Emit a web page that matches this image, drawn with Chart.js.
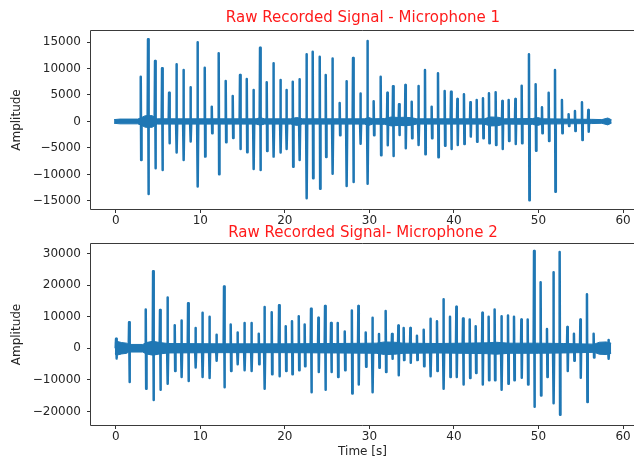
<!DOCTYPE html>
<html>
<head>
<meta charset="utf-8">
<script src="https://cdn.jsdelivr.net/npm/chart.js@4.4.1/dist/chart.umd.min.js"></script>
<style>
  html, body { margin: 0; padding: 0; background: #fff; overflow: hidden; }
  .box { position: absolute; left: 0; }
  #b1 { top: 0; }
  #b2 { top: 218px; }
</style>
</head>
<body>
<div class="box" id="b1"><canvas id="mic1" width="634" height="240"></canvas></div>
<div class="box" id="b2"><canvas id="mic2" width="634" height="242"></canvas></div>
<script>
// axis ticks
const xTicks = [0, 10, 20, 30, 40, 50, 60];
const yTicks1 = [-15000, -10000, -5000, 0, 5000, 10000, 15000];
const yTicks2 = [-20000, -10000, 0, 10000, 20000, 30000];

// microphone 1 - impact bursts: time [s], positive peak, negative peak
const spikeT1 = [2.98, 3.84, 4.67, 5.50, 6.33, 7.20, 8.03, 8.86, 9.69, 10.55, 11.38, 12.20, 13.03, 13.86, 14.72, 15.52, 16.31, 17.09, 17.88, 18.67,
  19.50, 20.21, 20.96, 21.75, 22.58, 23.32, 24.15, 24.86, 25.65, 26.51, 27.31, 28.09, 28.96, 29.79, 30.53, 31.36, 32.15, 32.82, 33.53, 34.28,
  35.03, 35.82, 36.60, 37.39, 38.14, 38.93, 39.68, 40.43, 41.21, 41.97, 42.72, 43.46, 44.17, 44.96, 45.75, 46.50, 47.29, 48.04, 48.90, 49.69,
  50.44, 51.23, 51.98, 52.80, 53.59, 54.34, 55.17, 55.92];
const spikeUp1 = [8450, 15500, 11400, 10030, 5440, 10790, 9720, 6450, 14940, 10160, 2800, 12870, 7640, 4810, 8770, 8020, 5940, 13930, 7400, 10980,
  7830, 5940, 7510, 7960, 12680, 13170, 12200, 8750, 11900, 3500, 7600, 12000, 5280, 15200, 3830, 8430, 5400, 6670, 3250, 6890,
  3740, 6700, 9720, 2800, 9090, 5750, 5620, 4250, 5130, 3620, 4060, 4380, 5320, 5510, 3870, 4060, 4250, 6750, 12680, 7020,
  2680, 5440, 9720, 4060, 1360, 1980, 3620, 2170];
const spikeDown1 = [-7260, -13680, -8840, -9150, -4120, -5880, -7260, -3800, -12300, -6640, -2230, -9970, -3930, -3110, -5190, -5810, -8960, -9150, -5570, -6640,
  -5880, -5190, -8530, -7260, -14490, -10720, -12700, -6720, -9870, -2600, -12200, -11450, -4190, -11760, -2610, -6400, -4500, -6530, -2550, -5060,
  -3170, -4430, -6190, -3170, -6760, -4570, -5190, -4430, -4250, -2860, -3810, -3170, -4110, -4430, -5190, -3680, -4250, -4110, -14900, -5510,
  -2230, -3680, -13250, -2230, -850, -1790, -3490, -1920];
// microphone 1 - background noise band: time [s], half height
const bandT1 = [-0.2, 0.5, 2.6, 3.0, 3.5, 4.3, 4.9, 16.6, 17.1, 17.6, 20.7, 21.4, 22.1, 29.4, 29.9, 30.4, 31.8, 32.6, 33.4, 34.2,
  35.0, 35.6, 43.6, 44.3, 45.2, 46.0, 49.3, 49.9, 50.5, 56.3, 57.5, 58.2, 58.65];
const bandH1 = [350, 450, 450, 700, 1100, 1100, 500, 500, 700, 500, 500, 750, 500, 500, 750, 500, 550, 850, 750, 800,
  700, 500, 500, 850, 800, 500, 550, 750, 500, 400, 350, 650, 300];

// microphone 2 - impact bursts
const spikeT2 = [0.06, 1.60, 3.57, 4.44, 5.26, 6.14, 7.00, 7.79, 8.58, 9.45, 10.27, 11.10, 11.93, 12.83, 13.62, 14.42, 15.24, 16.07, 16.94, 17.61,
  18.47, 19.34, 20.13, 20.87, 21.67, 22.37, 23.12, 23.99, 24.78, 25.49, 26.28, 27.11, 27.95, 28.72, 29.59, 30.38, 31.16, 31.95, 32.70, 33.45,
  34.08, 34.87, 35.65, 36.45, 37.24, 38.02, 38.78, 39.56, 40.31, 41.10, 41.89, 42.60, 43.39, 44.13, 44.84, 45.64, 46.42, 47.13, 48.00, 48.75,
  49.50, 50.28, 51.03, 51.79, 52.53, 53.44, 54.22, 54.98, 55.76, 56.55, 58.30];
const spikeUp2 = [2990, 8220, 12300, 24400, 12070, 16050, 7260, 8760, 14220, 6420, 11240, 9950, 4270, 19580, 7480, 5010, 8030, 8030, 4590, 13030,
  11430, 13580, 6930, 8540, 10140, 7480, 12520, 9630, 13380, 8030, 8030, 5330, 11970, 13380, 5010, 9630, 4490, 11770, 4490, 7160,
  6420, 6420, 3950, 5870, 9310, 8540, 15510, 9950, 13160, 9420, 9080, 6930, 11240, 9950, 12300, 10140, 10370, 9950, 9080, 9080,
  30820, 20870, 6100, 24080, 30500, 6740, 4590, 9080, 17110, 4590, 2600];
const spikeDown2 = [-3210, -10720, -12840, -16370, -13160, -11240, -7190, -9120, -10400, -6100, -9120, -9440, -3980, -12330, -7190, -5040, -6960, -7190, -5040, -12840,
  -8250, -8890, -7190, -8250, -6960, -5680, -13930, -7500, -13160, -7500, -9120, -6960, -14300, -11450, -5880, -13930, -6210, -7500, -3300, -8560,
  -3760, -4620, -3760, -5680, -8890, -7190, -12840, -9120, -9120, -11450, -9440, -7830, -11450, -10170, -10170, -13160, -11240, -10170, -9310, -11450,
  -18500, -14980, -9120, -17440, -21080, -7190, -3980, -9310, -17010, -2900, -3300];
// microphone 2 - background noise band
const bandT2 = [-0.1, 0.1, 0.7, 1.3, 1.5, 3.2, 3.6, 4.4, 5.2, 6.2, 12, 20, 26, 30.8, 31.8, 33.0, 34.0, 38.0, 43.8, 45.0,
  46.5, 50, 53, 56.6, 57.2, 58.0, 58.6];
const bandH2 = [1800, 2200, 1800, 1600, 1200, 1200, 1800, 2200, 1800, 1500, 1400, 1400, 1500, 1600, 2000, 1900, 1600, 1500, 1700, 1900,
  1600, 1600, 1500, 1300, 1900, 2000, 1600];

const BLUE = '#1f77b4';
const FONT = '"DejaVu Sans", "Liberation Sans", sans-serif';

function burstPoints(times, ups, downs) {
  const pts = [];
  times.forEach((t, i) => {
    pts.push({x: t - 0.07, y: 0});
    pts.push({x: t - 0.025, y: ups[i]});
    pts.push({x: t + 0.025, y: downs[i]});
    pts.push({x: t + 0.07, y: 0});
  });
  return pts;
}

function fmt(v) {
  return v < 0 ? '\u2212' + Math.abs(v) : String(v);
}

// frame (left, top, bottom; the right side is cut off in the figure) and the red title
const framePlugin = {
  id: 'frame',
  afterDraw(chart, args, opts) {
    const {ctx, chartArea: a, width} = chart;
    ctx.save();
    ctx.strokeStyle = '#3a3a3a';
    ctx.lineWidth = 1;
    ctx.beginPath();
    ctx.moveTo(width, a.top - 0.5);
    ctx.lineTo(a.left - 0.5, a.top - 0.5);
    ctx.lineTo(a.left - 0.5, a.bottom + 0.5);
    ctx.lineTo(width, a.bottom + 0.5);
    ctx.stroke();
    ctx.fillStyle = '#ff1a1a';
    ctx.font = '15px ' + FONT;
    ctx.textAlign = 'center';
    ctx.textBaseline = 'middle';
    ctx.fillText(opts.text, 363, opts.y);
    ctx.restore();
  }
};

function makeChart(id, o) {
  return new Chart(document.getElementById(id), {
    type: 'line',
    data: {
      datasets: [
        {data: o.bandT.map((t, i) => ({x: t, y: o.bandH[i]})), borderColor: BLUE, backgroundColor: BLUE,
          borderWidth: 1, pointRadius: 0, fill: '+1'},
        {data: o.bandT.map((t, i) => ({x: t, y: -o.bandH[i]})), borderColor: BLUE, borderWidth: 1,
          pointRadius: 0, fill: false},
        {data: burstPoints(o.spikeT, o.spikeUp, o.spikeDown), borderColor: BLUE, borderWidth: 2.5,
          borderJoinStyle: 'round', pointRadius: 0, fill: false}
      ]
    },
    options: {
      responsive: false,
      animation: false,
      events: [],
      layout: {padding: {top: o.padTop, left: 0, right: 0, bottom: 0}},
      plugins: {
        legend: {display: false},
        tooltip: {enabled: false},
        frame: {text: o.title, y: o.titleY}
      },
      scales: {
        x: {
          type: 'linear',
          min: -2.93,
          max: 61.3,
          afterBuildTicks: s => { s.ticks = xTicks.map(v => ({value: v})); },
          afterFit: s => { s.height = o.xHeight; },
          grid: {drawOnChartArea: false, drawTicks: true, tickLength: 4, color: '#333'},
          border: {display: false},
          ticks: {padding: 1, color: '#262626', font: {family: FONT, size: 12}, maxRotation: 0},
          title: {display: !!o.xTitle, text: o.xTitle || '', color: '#262626',
            font: {family: FONT, size: 12}, padding: {top: 0, bottom: 1}}
        },
        y: {
          min: o.yMin,
          max: o.yMax,
          afterBuildTicks: s => { s.ticks = o.yTicks.map(v => ({value: v})); },
          afterFit: s => { s.width = 91; },
          grid: {drawOnChartArea: false, drawTicks: true, tickLength: 4, color: '#333'},
          border: {display: false},
          ticks: {padding: 6, color: '#262626', font: {family: FONT, size: 12}, callback: fmt},
          title: {display: true, text: 'Amplitude', color: '#262626',
            font: {family: FONT, size: 12}, padding: {top: 10, bottom: 0}}
        }
      }
    },
    plugins: [framePlugin]
  });
}

makeChart('mic1', {
  spikeT: spikeT1, spikeUp: spikeUp1, spikeDown: spikeDown1, bandT: bandT1, bandH: bandH1,
  yTicks: yTicks1, yMin: -16530, yMax: 17080, padTop: 31, xHeight: 31,
  title: 'Raw Recorded Signal - Microphone 1', titleY: 18
});

makeChart('mic2', {
  spikeT: spikeT2, spikeUp: spikeUp2, spikeDown: spikeDown2, bandT: bandT2, bandH: bandH2,
  yTicks: yTicks2, yMin: -24300, yMax: 33000, padTop: 26, xHeight: 35,
  title: 'Raw Recorded Signal- Microphone 2', titleY: 15, xTitle: 'Time [s]'
});
</script>
</body>
</html>
